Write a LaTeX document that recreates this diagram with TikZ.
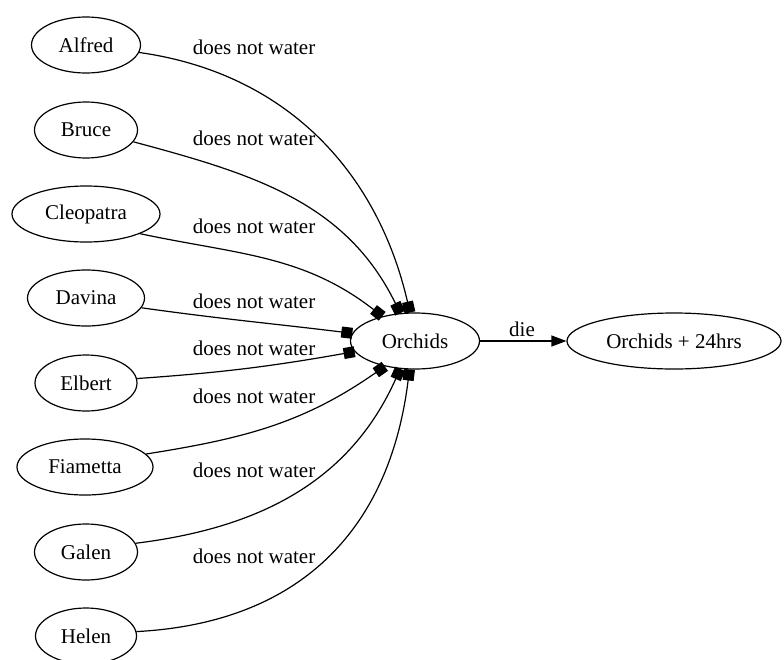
\documentclass[tikz,border=0pt]{standalone}
\usepackage{fontspec}
\setmainfont{Liberation Serif}
\usetikzlibrary{arrows.meta,positioning,shapes.geometric}

\begin{document}
\begin{tikzpicture}[
		  x=1pt, y=-1pt, line width=1.2pt,
		  person/.style={draw, ellipse, inner sep=0pt, minimum height=56pt, font=\fontsize{21}{24}\selectfont},
		  lbl/.style={inner sep=0pt, font=\fontsize{21}{24}\selectfont},
		  water/.style={-{Square[length=11pt,width=11pt]}},
		  die/.style={-{Triangle[length=15pt,width=11pt]}}
		]
		\useasboundingbox (0,0) rectangle (784,659);
		\node[person, minimum width=109pt] (alfred)    at (86,45)  {Alfred};
		\node[person, minimum width=103pt] (bruce)     at (86,130) {Bruce};
		\node[person, minimum width=148pt] (cleopatra) at (86,214) {Cleopatra};
		\node[person, minimum width=117pt] (davina)    at (86,298) {Davina};
		\node[person, minimum width=102pt] (elbert)    at (86,383) {Elbert};
		\node[person, minimum width=136pt] (fiametta)  at (85,467) {Fiametta};
		\node[person, minimum width=103pt] (galen)     at (86,552) {Galen};
		\node[person, minimum width=101pt] (helen)     at (86,636) {Helen};
		\node[person, minimum width=129pt] (orchids)   at (415,341) {Orchids};
		\node[person, minimum width=214pt] (orchids24) at (674,341) {Orchids + 24hrs};
		
		\draw[water] (alfred.-8)    to[out=-8, in=103] (orchids.100);
		\draw[water] (bruce.-14)    to[out=-15, in=116] (orchids.118);
		\draw[water] (cleopatra.-20) to[out=-12, in=142] (orchids.143);
		\draw[water] (davina.-10)   to[out=-8, in=173] (orchids.173);
		\draw[water] (elbert.5)     to[out=4, in=190] (orchids.190);
		\draw[water] (fiametta.12)  to[out=9, in=215] (orchids.220);
		\draw[water] (galen.10)     to[out=7, in=246] (orchids.242);
		\draw[water] (helen.5)      to[out=3, in=263, looseness=1.1] (orchids.259);
		\draw[die] (orchids) -- (orchids24);
		
		\node[lbl] (dnw_alfred)    at (254,47)  {does not water};
		\node[lbl] (dnw_bruce)     at (254,138) {does not water};
		\node[lbl] (dnw_cleopatra) at (254,226) {does not water};
		\node[lbl] (dnw_davina)    at (254,301) {does not water};
		\node[lbl] (dnw_elbert)    at (254,348) {does not water};
		\node[lbl] (dnw_fiametta)  at (254,396) {does not water};
		\node[lbl] (dnw_galen)     at (254,470) {does not water};
		\node[lbl] (dnw_helen)     at (254,556) {does not water};
		\node[lbl] (die_lbl)       at (522,329) {die};
		\end{tikzpicture}
\end{document}
